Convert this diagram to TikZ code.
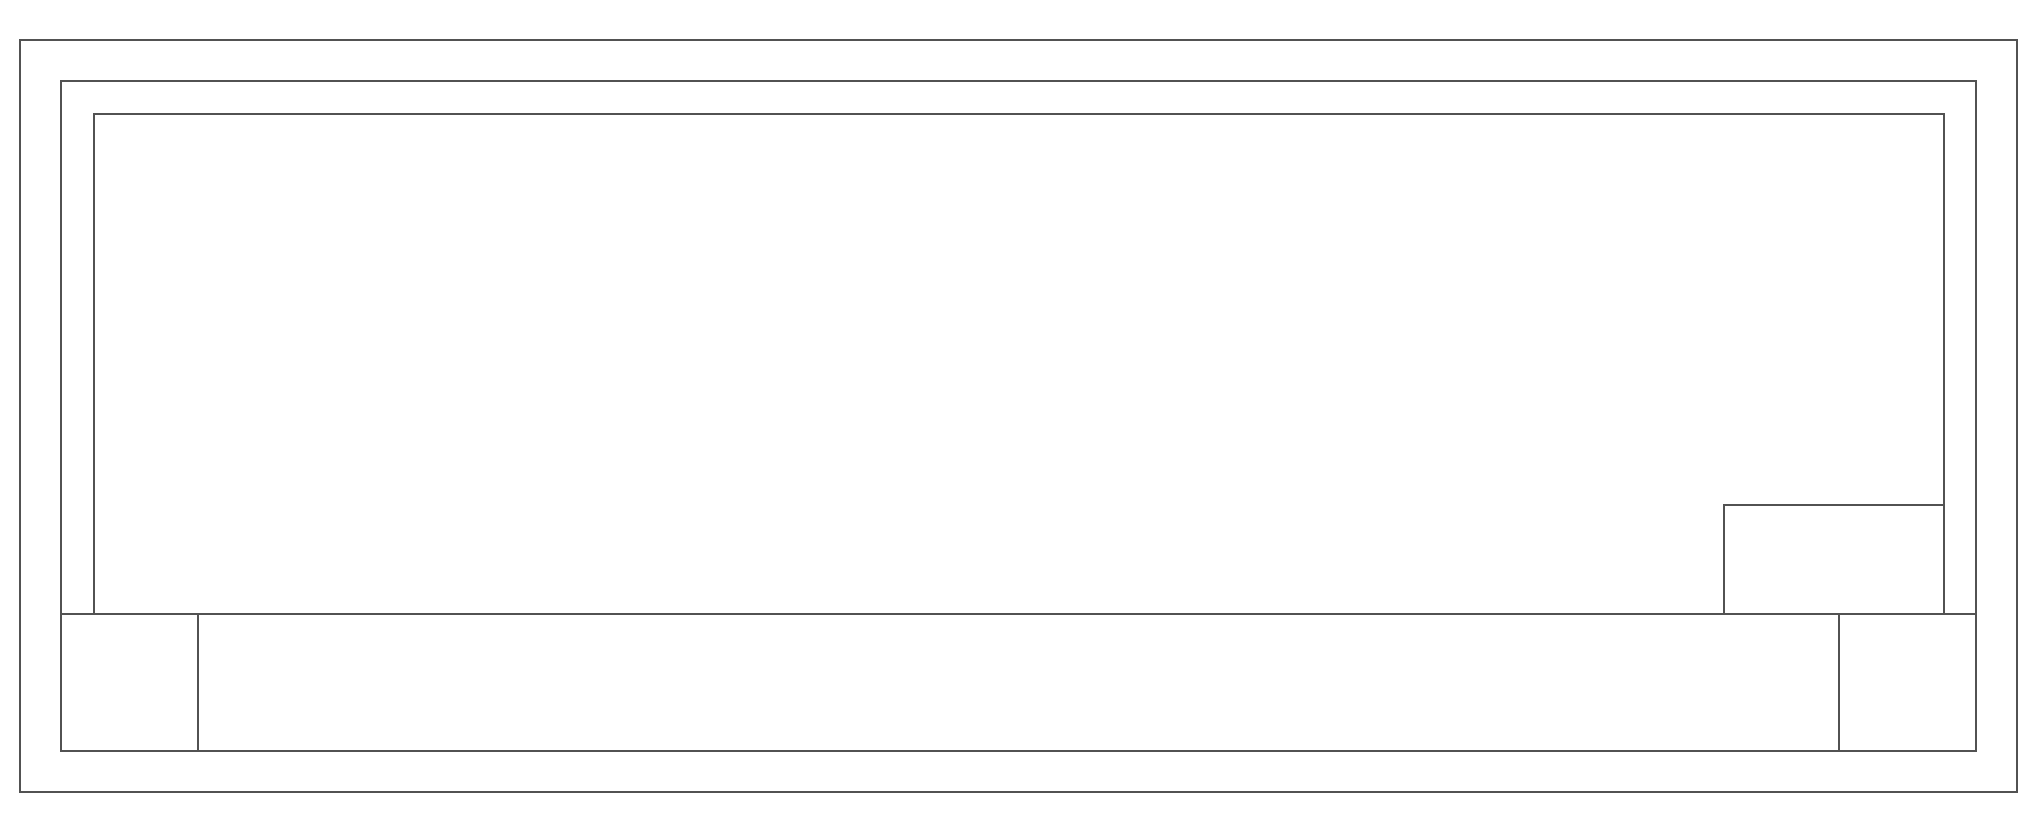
\documentclass[tikz,border=0pt]{standalone}
\usepackage{tikz}
\usetikzlibrary{positioning,calc}
\begin{document}
\begin{tikzpicture}[x=0.01cm, y=-0.01cm,
    wall/.style={draw=black!68, line width=0.7pt}]
            \useasboundingbox (0,0) rectangle (2044,826);
            \draw[wall] (20,40) rectangle (2017,792);
            \draw[wall] (61,81) rectangle (1976,751);
            \draw[wall] (94,614) -- (94,114) -- (1944,114) -- (1944,614);

            \draw[wall] (61,614) -- (1976,614);
            \foreach \x in {198,1839}
            \draw[wall] (\x,614) -- (\x,751);

            \draw[wall] (1724,614) -- (1724,505) -- (1944,505);
        \end{tikzpicture}
\end{document}
